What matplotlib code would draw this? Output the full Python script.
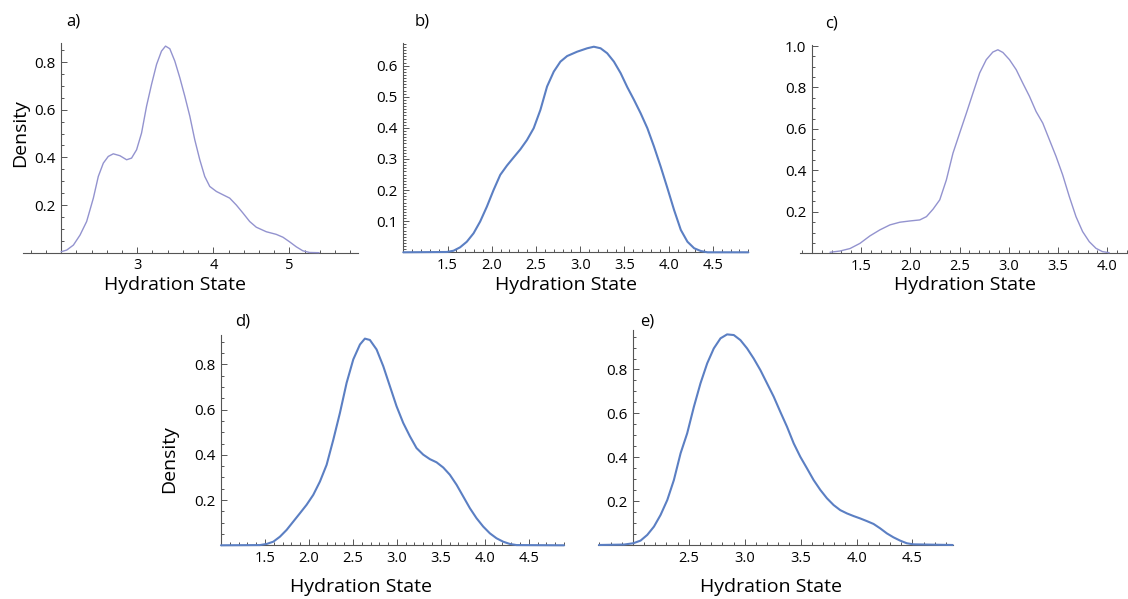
import numpy as np
import matplotlib
matplotlib.use("Agg")
import matplotlib.pyplot as plt
from matplotlib.ticker import FixedLocator, MultipleLocator

plt.rcParams['font.family'] = ['Open Sans', 'DejaVu Sans']

# ---------------- data ----------------
a_x = [2.0, 2.074, 2.162, 2.249, 2.336, 2.424, 2.489, 2.555, 2.62, 2.686, 2.773, 2.861,
       2.926, 2.992, 3.057, 3.123, 3.188, 3.254, 3.319, 3.372, 3.428, 3.494, 3.56, 3.625,
       3.691, 3.756, 3.822, 3.887, 3.953, 4.04, 4.127, 4.215, 4.302, 4.39, 4.477, 4.564,
       4.695, 4.826, 4.914, 5.0, 5.088, 5.175, 5.263, 5.39]
a_y = [0.004, 0.011, 0.032, 0.074, 0.131, 0.229, 0.32, 0.376, 0.404, 0.415, 0.407, 0.39,
       0.397, 0.432, 0.502, 0.615, 0.706, 0.79, 0.846, 0.867, 0.856, 0.804, 0.734, 0.657,
       0.573, 0.474, 0.39, 0.32, 0.278, 0.257, 0.243, 0.229, 0.2, 0.166, 0.131, 0.107,
       0.088, 0.077, 0.065, 0.046, 0.025, 0.008, 0.001, 0.0]

b_x = [1.0, 1.491, 1.567, 1.642, 1.718, 1.794, 1.869, 1.945, 2.02, 2.096, 2.172, 2.247,
       2.323, 2.398, 2.474, 2.55, 2.625, 2.701, 2.776, 2.852, 2.965, 3.079, 3.154, 3.23,
       3.305, 3.381, 3.457, 3.532, 3.608, 3.683, 3.759, 3.834, 3.91, 3.986, 4.061, 4.137,
       4.212, 4.288, 4.364, 4.439, 4.9]
b_y = [0.0, 0.001, 0.005, 0.016, 0.034, 0.061, 0.099, 0.147, 0.2, 0.249, 0.279, 0.305,
       0.331, 0.361, 0.399, 0.458, 0.533, 0.581, 0.613, 0.631, 0.645, 0.656, 0.661, 0.656,
       0.64, 0.613, 0.576, 0.531, 0.49, 0.447, 0.399, 0.34, 0.275, 0.206, 0.136, 0.072,
       0.034, 0.013, 0.004, 0.0, 0.0]

c_x = [1.185, 1.286, 1.388, 1.489, 1.59, 1.691, 1.793, 1.894, 1.995, 2.096, 2.164, 2.231,
       2.299, 2.366, 2.433, 2.501, 2.569, 2.636, 2.704, 2.771, 2.838, 2.889, 2.94, 3.007,
       3.075, 3.142, 3.21, 3.277, 3.345, 3.412, 3.48, 3.547, 3.614, 3.682, 3.749, 3.817,
       3.885, 3.951, 4.019]
c_y = [0.005, 0.011, 0.023, 0.048, 0.084, 0.113, 0.137, 0.15, 0.156, 0.161, 0.177, 0.213,
       0.258, 0.354, 0.483, 0.58, 0.676, 0.773, 0.87, 0.934, 0.971, 0.982, 0.969, 0.934,
       0.886, 0.821, 0.757, 0.684, 0.628, 0.548, 0.467, 0.378, 0.274, 0.177, 0.105, 0.056,
       0.024, 0.008, 0.003]

d_x = [1.0, 1.443, 1.519, 1.595, 1.67, 1.746, 1.822, 1.898, 1.973, 2.049, 2.125, 2.201,
       2.277, 2.352, 2.428, 2.504, 2.58, 2.636, 2.693, 2.769, 2.845, 2.92, 2.996, 3.072,
       3.148, 3.223, 3.299, 3.375, 3.451, 3.527, 3.602, 3.678, 3.754, 3.83, 3.905, 3.981,
       4.057, 4.133, 4.208, 4.284, 4.36, 4.9]
d_y = [0.0, 0.001, 0.006, 0.016, 0.038, 0.068, 0.105, 0.142, 0.179, 0.223, 0.282, 0.356,
       0.467, 0.585, 0.718, 0.822, 0.888, 0.914, 0.908, 0.866, 0.792, 0.704, 0.615, 0.541,
       0.482, 0.43, 0.401, 0.381, 0.367, 0.344, 0.312, 0.268, 0.216, 0.164, 0.12, 0.083,
       0.053, 0.031, 0.016, 0.006, 0.001, 0.0]

e_x = [1.696, 1.92, 2.003, 2.068, 2.128, 2.188, 2.247, 2.307, 2.366, 2.426, 2.485, 2.545,
       2.604, 2.664, 2.723, 2.783, 2.842, 2.902, 2.961, 3.021, 3.08, 3.14, 3.199, 3.259,
       3.318, 3.378, 3.438, 3.497, 3.557, 3.616, 3.676, 3.735, 3.795, 3.854, 3.914, 3.973,
       4.033, 4.092, 4.152, 4.211, 4.271, 4.33, 4.39, 4.449, 4.509, 4.86]
e_y = [0.0, 0.002, 0.008, 0.02, 0.046, 0.084, 0.137, 0.205, 0.296, 0.418, 0.509, 0.63,
       0.737, 0.828, 0.896, 0.942, 0.96, 0.957, 0.934, 0.896, 0.85, 0.797, 0.737, 0.676,
       0.607, 0.539, 0.463, 0.402, 0.349, 0.296, 0.251, 0.213, 0.182, 0.159, 0.144, 0.132,
       0.121, 0.109, 0.096, 0.076, 0.053, 0.035, 0.02, 0.008, 0.003, 0.0]

a_xticks = [3, 4, 5]
bd_xticks = [1.5, 2.0, 2.5, 3.0, 3.5, 4.0, 4.5]
c_xticks = [1.5, 2.0, 2.5, 3.0, 3.5, 4.0]
e_xticks = [2.5, 3.0, 3.5, 4.0, 4.5]
b_yticks = [0.1, 0.2, 0.3, 0.4, 0.5, 0.6]
c_yticks = [0.2, 0.4, 0.6, 0.8, 1.0]
ade_yticks = [0.2, 0.4, 0.6, 0.8]

panel_labels = ["a)", "b)", "c)", "d)", "e)"]
xlabel = "Hydration State"
ylabel = "Density"

# ---------------- layout ----------------
W, H = 1128, 599
fig = plt.figure(figsize=(W / 100, H / 100), dpi=100)

PURPLE = "#9393cf"
BLUE = "#5b7fc3"
AXC = "#555555"


def fx(px):
    return px / W


def fy(py):
    return 1 - py / H


def make_panel(px_left, px_right, py_zero, py_top, xlim, ylim, origin_x, xs, ys, color, lw,
               xticks, yticks, xminor, yminor, xfmt, yfmt):
    ax = fig.add_axes([fx(px_left), fy(py_zero), (px_right - px_left) / W, (py_zero - py_top) / H])
    ax.set_xlim(*xlim)
    ax.set_ylim(*ylim)
    ax.patch.set_alpha(0)
    for s in ("top", "right"):
        ax.spines[s].set_visible(False)
    ax.spines["left"].set_position(("data", origin_x))
    ax.spines["bottom"].set_position(("data", 0))
    for s in ("left", "bottom"):
        ax.spines[s].set_color(AXC)
        ax.spines[s].set_linewidth(0.8)
    ax.plot(xs, ys, color=color, lw=lw, solid_joinstyle="round", solid_capstyle="round",
            clip_on=False, zorder=3)
    ax.xaxis.set_major_locator(FixedLocator(xticks))
    ax.yaxis.set_major_locator(FixedLocator(yticks))
    ax.xaxis.set_minor_locator(MultipleLocator(xminor))
    ax.yaxis.set_minor_locator(MultipleLocator(yminor))
    ax.set_xticklabels([xfmt.format(v) for v in xticks])
    ax.set_yticklabels([yfmt.format(v) for v in yticks])
    ax.tick_params(which="both", direction="in", color=AXC, width=0.7)
    ax.tick_params(which="major", length=4.5)
    ax.tick_params(which="minor", length=2.5)
    ax.tick_params(axis="x", which="major", labelsize=10.5, pad=4.0)
    ax.tick_params(axis="y", which="major", labelsize=11, pad=4.0)
    return ax


make_panel(23, 358, 252.7, 43, (1.5, 5.9), (0, 0.88), 2.0, a_x, a_y, PURPLE, 1.0,
           a_xticks, ade_yticks, 0.2, 0.05, "{:.0f}", "{:.1f}")
make_panel(403.3, 748.3, 252.3, 43.3, (1.0, 4.9), (0, 0.672), 1.0, b_x, b_y, BLUE, 1.5,
           bd_xticks, b_yticks, 0.1, 0.01, "{:.1f}", "{:.1f}")
make_panel(800, 1127, 253.3, 45, (0.88, 4.2), (0, 1.005), 1.0, c_x, c_y, PURPLE, 1.0,
           c_xticks, c_yticks, 0.1, 0.05, "{:.1f}", "{:.1f}")
make_panel(221, 564, 545.3, 335, (1.0, 4.9), (0, 0.93), 1.0, d_x, d_y, BLUE, 1.5,
           bd_xticks, ade_yticks, 0.1, 0.05, "{:.1f}", "{:.1f}")
make_panel(598.3, 952.7, 545, 330, (1.69, 4.86), (0, 0.98), 2.0, e_x, e_y, BLUE, 1.5,
           e_xticks, ade_yticks, 0.1, 0.05, "{:.1f}", "{:.1f}")

# panel labels
for lab, (px, py) in zip(panel_labels, [(73, 22), (421.7, 22), (831.7, 23), (242.7, 322), (646.7, 322)]):
    fig.text(fx(px), fy(py), lab, fontsize=12, ha="center", va="center")

# x labels
for px, py in [(175, 285), (565.8, 285), (965, 285), (360.8, 586.7), (770.8, 586.7)]:
    fig.text(fx(px), fy(py), xlabel, fontsize=14, ha="center", va="center")

# y labels
for px, py in [(20, 133), (169, 459)]:
    fig.text(fx(px), fy(py), ylabel, fontsize=14, ha="center", va="center", rotation=90)

fig.savefig("out.png", dpi=100)
